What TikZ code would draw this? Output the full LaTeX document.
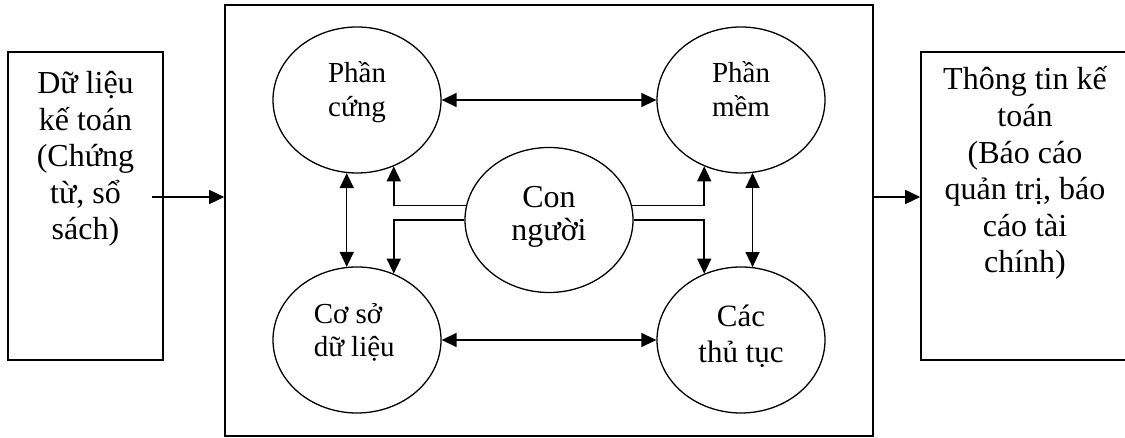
\documentclass[tikz,border=0pt]{standalone}
\usepackage{fontspec}
\setmainfont{Liberation Serif}
\usetikzlibrary{shapes.geometric,arrows.meta}

\begin{document}
\begin{tikzpicture}[
    x=1pt, y=1pt,
    line width=1.5pt,
    khung/.style={rectangle, draw, line width=1.6pt, inner sep=0pt},
    oval/.style={ellipse, draw, line width=1.3pt, inner sep=0pt, minimum width=168pt, minimum height=146pt},
    chu/.style={align=center, anchor=base, inner sep=0pt},
    lon/.style={font=\fontsize{32}{36.6}\selectfont},
    vua/.style={font=\fontsize{29}{34}\selectfont},
    >={Triangle[length=15pt,width=14pt]}
]
\useasboundingbox (0,0) rectangle (1125,438);

% Đầu vào
\node[khung, minimum width=155pt, minimum height=308pt] at (85.5,232) (dulieu) {};
\node[chu, lon] at (85.5,198) (dulieuchu) {Dữ liệu\\kế toán\\(Chứng\\từ, sổ\\sách)};

% Hệ thống ở giữa
\node[khung, minimum width=648pt, minimum height=431pt] at (549,217.5) (hethong) {};

% Đầu ra
\node[khung, minimum width=209pt, minimum height=308pt] at (1025.5,232) (thongtin) {};
\node[chu, lon] at (1025,165) (thongtinchu) {Thông tin kế\\toán\\(Báo cáo\\quản trị, báo\\cáo tài\\chính)};

% Các thành phần
\node[oval] at (357,338) (cung) {};
\node[chu, vua] at (357,321) (cungchu) {Phần\\cứng};
\node[oval] at (741,338) (mem) {};
\node[chu, vua] at (741,321) (memchu) {Phần\\mềm};
\node[oval, minimum height=145pt] at (549,218) (nguoi) {};
\node[chu, font=\fontsize{32}{33}\selectfont] at (549,197) (nguoichu) {Con\\người};
\node[oval] at (357,98) (csdl) {};
\node[chu, align=left, anchor=base west, font=\fontsize{29}{33}\selectfont] at (313,81) (csdlchu) {Cơ sở\\dữ liệu};
\node[oval] at (741,98) (thutuc) {};
\node[chu, font=\fontsize{31}{36}\selectfont] at (741,75) (thutucchu) {Các\\thủ tục};

% Vào, ra
\coordinate (vao) at (152,241);
\draw[->] (vao) -- (vao -| hethong.west);
\coordinate (ra) at (hethong.east |- vao);
\draw[->] (ra) -- (ra -| thongtin.west);

% Liên kết giữa các thành phần
\draw[<->] (cung.east) -- (mem.west);
\draw[<->] (csdl.east) -- (thutuc.west);
\draw[<->] (cung.-98.6) -- (csdl.98.6);
\draw[<->] (mem.-81) -- (thutuc.81);

% Con người tới các thành phần
\draw[->] (nguoi.170) -| (cung.-61.4);
\draw[->] (nguoi.180) -| (csdl.61.4);
\draw[->] (nguoi.10) -| (mem.-119.4);
\draw[->] (nguoi.0) -| (thutuc.119.4);
\end{tikzpicture}
\end{document}
